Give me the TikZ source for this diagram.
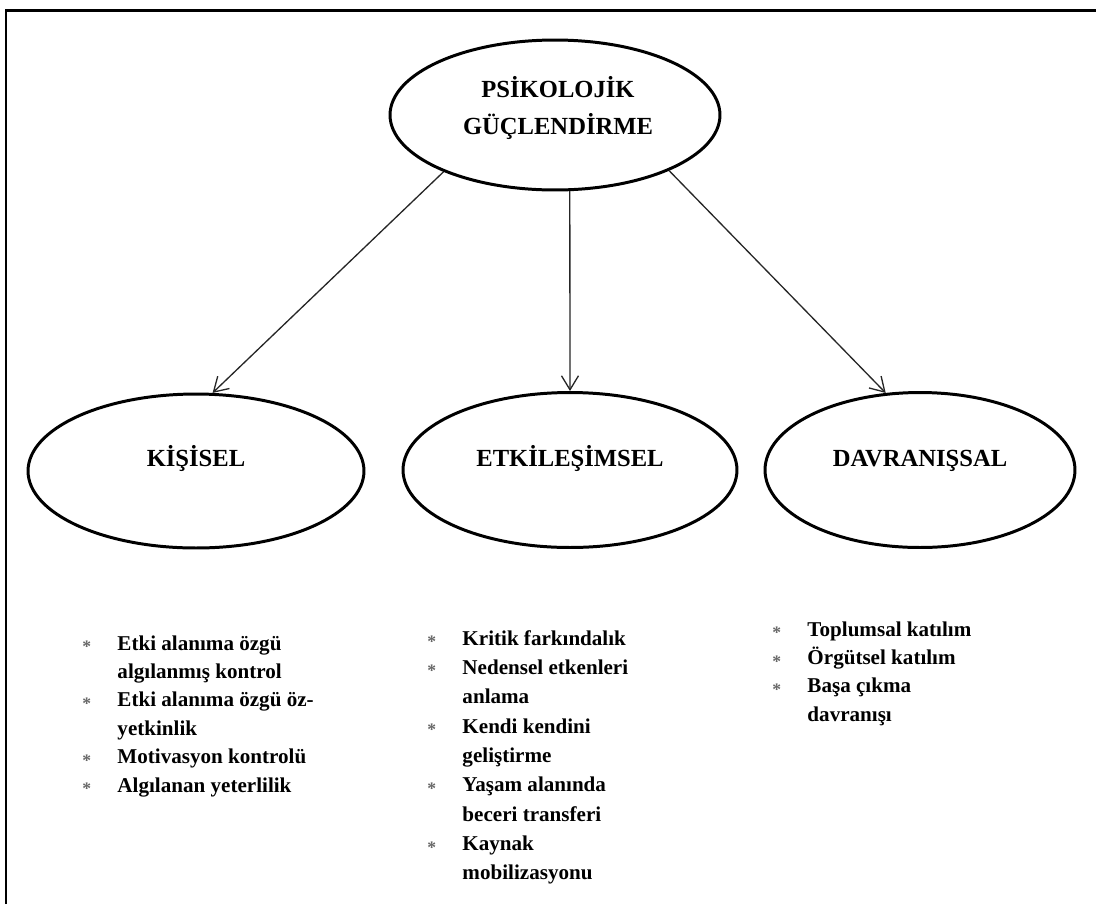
\documentclass[tikz,border=0pt]{standalone}
\usepackage{fontspec}
\setmainfont{Liberation Serif}
\usepackage{tikz}
\usetikzlibrary{
  % ellipse shape
  shapes.geometric,%
  arrows.meta,%
  positioning
}
\tikzset{>={Straight Barb[length=0.28cm, width=0.34cm]}}
\tikzset{font=\bfseries}
\newcommand{\bul}{\makebox[20pt][l]{\color{black!60}\fontsize{10}{10}\selectfont\raisebox{-1.5pt}{*}}}

\begin{document}
\begin{tikzpicture}[x=0.02cm, y=-0.02cm,
    oval/.style={ellipse, draw, line width=1.7pt, inner sep=0pt},
    head/.style={anchor=base, inner sep=0pt, font=\fontsize{14}{19.8}\selectfont\bfseries},
    items/.style={anchor=base west, inner sep=0pt, font=\fontsize{12}{16.2}\selectfont\bfseries},
    link/.style={->, line width=0.75pt, black!85}]
  \useasboundingbox (0, 0) rectangle (1096, 904);
  \draw[line width=1.7pt] (6, 904) -- (6, 10) -- (1096, 10); %
  % ellipses
  \node[oval, minimum width=6.6cm, minimum height=3cm] (guc) at (555, 115) {}; %
  \node[oval, minimum width=6.72cm, minimum height=3.08cm] (kisisel) at (196, 471) {}; %
  \node[oval, minimum width=6.68cm, minimum height=3.1cm] (etk) at (570, 470) {}; %
  \node[oval, minimum width=6.2cm, minimum height=3.1cm] (dav) at (920, 470) {}; %
  % titles
  \node[head] (gucT) at (558, 97) {\begin{tabular}[t]{@{}c@{}}PSİKOLOJİK\\[1.5pt]GÜÇLENDİRME\end{tabular}}; %
  \node[head] (kisiselT) at (196, 466) {KİŞİSEL}; %
  \node[head] (etkT) at (570, 466) {ETKİLEŞİMSEL}; %
  \node[head] (davT) at (920, 466) {DAVRANIŞSAL}; %
  % arrows
  \draw[link] (guc.207) -- (kisisel.78); %
  \draw[link] (guc.281) -- (etk.90); %
  \draw[link] (guc.334) -- (dav.114); %
  % lists
  \node[items] (kisiselL) at (82, 650) {\begin{tabular}[t]{@{}l@{}l@{}}
    \bul & Etki alanıma özgü\\
         & algılanmış kontrol\\
    \bul & Etki alanıma özgü öz-\\
         & yetkinlik\\
    \bul & Motivasyon kontrolü\\
    \bul & Algılanan yeterlilik
  \end{tabular}}; %
  \node[items] (etkL) at (427, 645) {\begin{tabular}[t]{@{}l@{}l@{}}
    \bul & Kritik farkındalık\\[0.5pt]
    \bul & Nedensel etkenleri\\[0.5pt]
         & anlama\\[0.5pt]
    \bul & Kendi kendini\\[0.5pt]
         & geliştirme\\[0.5pt]
    \bul & Yaşam alanında\\[0.5pt]
         & beceri transferi\\[0.5pt]
    \bul & Kaynak\\[0.5pt]
         & mobilizasyonu
  \end{tabular}}; %
  \node[items] (davL) at (772, 636) {\begin{tabular}[t]{@{}l@{}l@{}}
    \bul & Toplumsal katılım\\
    \bul & Örgütsel katılım\\
    \bul & Başa çıkma\\
         & davranışı
  \end{tabular}}; %
\end{tikzpicture}
\end{document}
